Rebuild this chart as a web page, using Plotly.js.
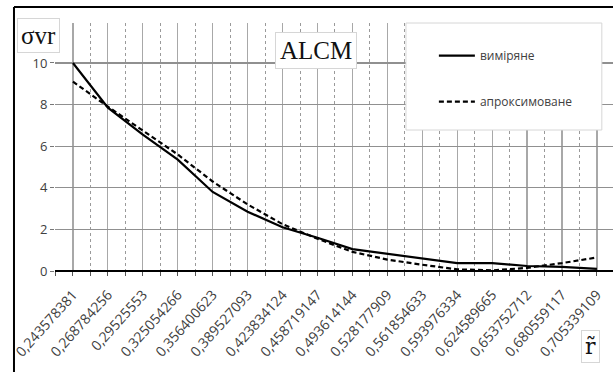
<!DOCTYPE html>
<html>
<head>
<meta charset="utf-8">
<script src="https://cdn.plot.ly/plotly-3.0.1.min.js"></script>
<style>html,body{margin:0;padding:0;background:#fff;}#chart{width:613px;height:372px;}</style>
</head>
<body>
<div id="chart"></div>
<script>
var categories = ["0,243578381","0,268784256","0,29525553","0,325054266","0,356400623","0,389527093","0,423834124","0,458719147","0,493614144","0,528177909","0,561854633","0,593976334","0,624589665","0,653752712","0,680559117","0,705339109"];
var measured = [10, 7.85, 6.55, 5.35, 3.8, 2.85, 2.1, 1.6, 1.05, 0.82, 0.58, 0.38, 0.38, 0.24, 0.2, 0.1];
var approximated = [9.1, 7.9, 6.75, 5.6, 4.3, 3.2, 2.25, 1.55, 0.92, 0.55, 0.3, 0.08, 0.03, 0.15, 0.38, 0.65];
var yTicks = [0, 2, 4, 6, 8, 10];
var seriesNames = ["виміряне", "апроксимоване"];

var idx = categories.map(function(_, i){ return i; });
var boundaries = idx.map(function(i){ return i - 0.5; }).concat([categories.length - 0.5]);

var traces = [
  {x: idx, y: measured, type: 'scatter', mode: 'lines', name: seriesNames[0], legendgroup: 'a',
   line: {color: '#000', width: 2.2}},
  {x: idx, y: approximated, type: 'scatter', mode: 'lines', name: seriesNames[1], legendgroup: 'b',
   line: {color: '#000', width: 2.2, dash: '5px,3px'}}
];

var layout = {
  width: 613, height: 372,
  margin: {l: 55, r: 0, t: 23, b: 101, pad: 0},
  paper_bgcolor: '#fff', plot_bgcolor: '#fff',
  showlegend: true,
  legend: {x: 0.679, xanchor: 'left', y: 0.927, yanchor: 'top', bgcolor: 'rgba(0,0,0,0)',
           font: {family: 'Open Sans', size: 12, color: '#404040'}, tracegroupgap: 27, itemwidth: 36},
  xaxis: {
    range: [-0.514, 15.46], tickmode: 'array', tickvals: idx, ticktext: categories,
    tickangle: -48, tickfont: {family: 'Open Sans', size: 14, color: '#404040'}, ticklabelstandoff: 5,
    showgrid: true, gridcolor: '#a8a8a8', gridwidth: 1.2,
    ticks: 'outside', ticklen: 4, tickcolor: '#555',
    minor: {tickmode: 'array', tickvals: boundaries, showgrid: true, gridcolor: '#9a9a9a', griddash: 'dot', gridwidth: 1,
            ticks: 'outside', ticklen: 4, tickcolor: '#555'},
    showline: false, zeroline: false, fixedrange: true
  },
  yaxis: {
    range: [0, 11.92], tickmode: 'array', tickvals: yTicks, ticktext: yTicks.map(String),
    tickfont: {family: 'Open Sans', size: 13, color: '#404040'},
    showgrid: true, gridcolor: '#909090', gridwidth: 1.2,
    ticks: 'outside', ticklen: 4, tickcolor: '#777',
    zeroline: true, zerolinecolor: '#000', zerolinewidth: 1.5,
    showline: false, fixedrange: true
  },
  shapes: [
    {type: 'rect', xref: 'paper', yref: 'paper', x0: 0.629, x1: 0.980, y0: 0.5685, y1: 1.0,
     fillcolor: '#fff', line: {color: '#d6d6d6', width: 1}, layer: 'above'},
    {type: 'line', xref: 'paper', yref: 'paper', x0: -0.0735, x1: -0.0735, y0: 1.0645, y1: -0.42,
     line: {color: '#000', width: 2}, layer: 'above'},
    {type: 'line', xref: 'paper', yref: 'paper', x0: -0.0735, x1: 1.01, y0: 1.0645, y1: 1.0645,
     line: {color: '#000', width: 2}, layer: 'above'}
  ],
  annotations: [
    {text: 'ALCM', xref: 'paper', yref: 'paper', x: 0.4686, y: 0.891, xanchor: 'center', yanchor: 'middle', showarrow: false,
     font: {family: 'Liberation Serif', size: 25, color: '#111'}, bgcolor: '#fff',
     bordercolor: '#d6d6d6', borderwidth: 1, borderpad: 4},
    {text: 'σvr', xref: 'paper', yref: 'paper', x: -0.0296, y: 0.9496, xanchor: 'center', yanchor: 'middle', showarrow: false,
     font: {family: 'Liberation Serif', size: 25, color: '#111'}, bgcolor: '#fff',
     bordercolor: '#d6d6d6', borderwidth: 1, borderpad: 3},
    {text: 'r\u0303', xref: 'paper', yref: 'paper', x: 0.9588, y: -0.306, xanchor: 'center', yanchor: 'middle', showarrow: false,
     font: {family: 'DejaVu Serif', size: 22, color: '#111'}, bgcolor: '#fff',
     bordercolor: '#d6d6d6', borderwidth: 1, borderpad: 3}
  ]
};

Plotly.newPlot('chart', traces, layout, {staticPlot: true, displayModeBar: false});
</script>
</body>
</html>
